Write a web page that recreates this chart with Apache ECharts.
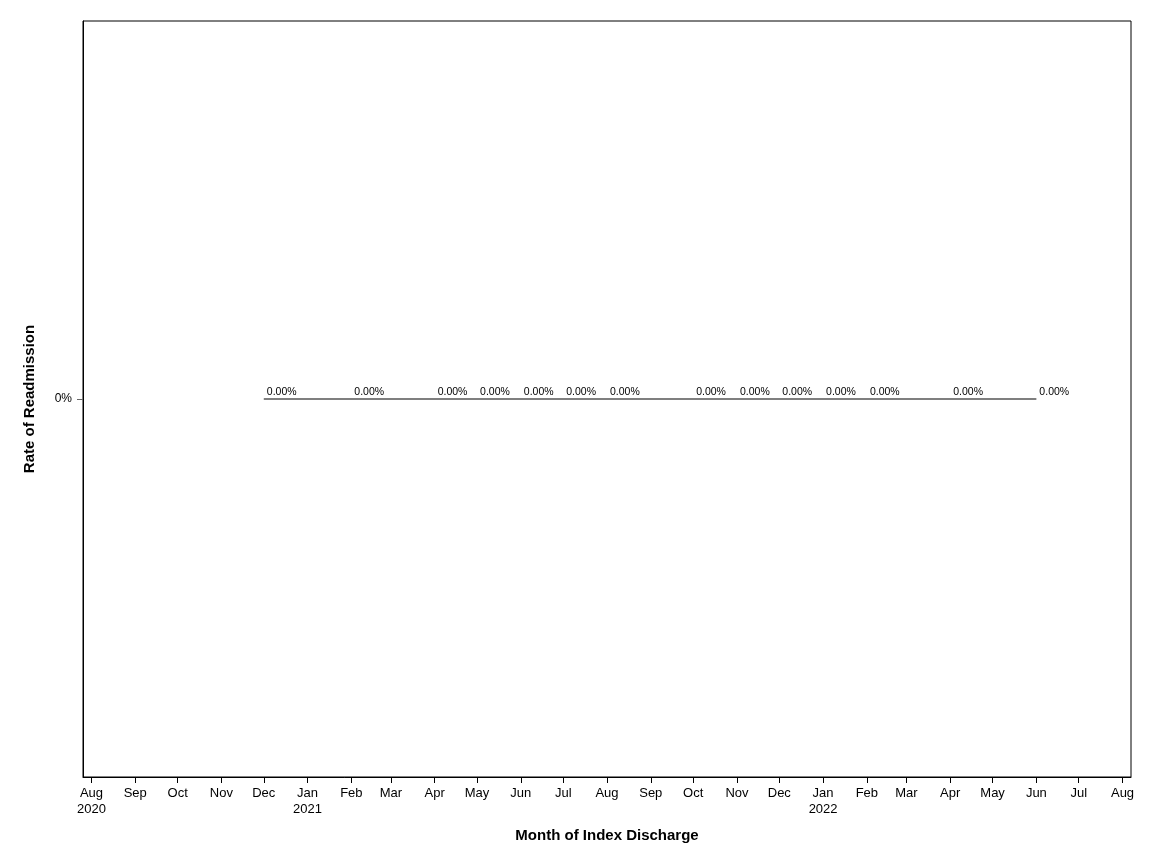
<!DOCTYPE html>
<html>
<head>
<meta charset="utf-8">
<script src="https://cdn.jsdelivr.net/npm/echarts@6/dist/echarts.min.js"></script>
<style>
html,body{margin:0;padding:0;background:#fff;}
#chart{width:1152px;height:864px;}
</style>
</head>
<body>
<div id="chart"></div>
<script>
// Data
const months = ['2020-12-01','2021-02-01','2021-04-01','2021-05-01','2021-06-01','2021-07-01','2021-08-01',
                '2021-10-01','2021-11-01','2021-12-01','2022-01-01','2022-02-01','2022-04-01','2022-06-01'];
const rates = [0,0,0,0,0,0,0,0,0,0,0,0,0,0];
const tickDates = ['2020-08-01','2020-09-01','2020-10-01','2020-11-01','2020-12-01','2021-01-01','2021-02-01',
                   '2021-03-01','2021-04-01','2021-05-01','2021-06-01','2021-07-01','2021-08-01','2021-09-01',
                   '2021-10-01','2021-11-01','2021-12-01','2022-01-01','2022-02-01','2022-03-01','2022-04-01',
                   '2022-05-01','2022-06-01','2022-07-01','2022-08-01'];
const tickLabels = ['Aug\n2020','Sep','Oct','Nov','Dec','Jan\n2021','Feb','Mar','Apr','May','Jun','Jul','Aug','Sep',
                    'Oct','Nov','Dec','Jan\n2022','Feb','Mar','Apr','May','Jun','Jul','Aug'];
const yTickValues = [0];
const yTickLabels = ['0%'];

function toTs(s){ const p = s.split('-').map(Number); return Date.UTC(p[0], p[1]-1, p[2]); }
const tickTs = tickDates.map(toTs);
const labelMap = {};
tickTs.forEach((t,i)=>{ labelMap[t] = tickLabels[i]; });

const chart = echarts.init(document.getElementById('chart'), null, {renderer:'canvas'});
const font = 'Liberation Sans, Arial, sans-serif';
chart.setOption({
  animation:false,
  backgroundColor:'#fff',
  textStyle:{fontFamily:font},
  grid:{left:83, right:21, top:21, bottom:87, show:true, borderColor:'#000', borderWidth:1, containLabel:false},
  xAxis:{
    type:'value',
    min: toTs('2020-07-26'),
    max: toTs('2022-08-07'),
    name:'Month of Index Discharge',
    nameLocation:'middle',
    nameGap:51,
    nameTextStyle:{fontFamily:font, fontSize:15, fontWeight:'bold', color:'#000'},
    axisLine:{show:true, onZero:false, lineStyle:{color:'#000', width:1}},
    axisTick:{show:true, length:6, inside:false, lineStyle:{color:'#000', width:1}, customValues:tickTs},
    axisLabel:{show:true, customValues:tickTs, fontFamily:font, fontSize:13, color:'#000', lineHeight:16, margin:8,
      hideOverlap:false,
      formatter:function(v){ return labelMap[v] !== undefined ? labelMap[v] : ''; }},
    splitLine:{show:false}
  },
  yAxis:{
    type:'value',
    min:-1, max:1,
    name:'Rate of Readmission',
    nameLocation:'middle',
    nameGap:46,
    nameTextStyle:{fontFamily:font, fontSize:15, fontWeight:'bold', color:'#000'},
    axisLine:{show:true, onZero:false, lineStyle:{color:'#000', width:1}},
    axisTick:{show:true, length:6, lineStyle:{color:'#666', width:1}, customValues:yTickValues},
    axisLabel:{show:true, customValues:yTickValues, fontFamily:font, fontSize:12, color:'#000', margin:11,
      formatter:function(v){ const i = yTickValues.indexOf(v); return i>=0 ? yTickLabels[i] : ''; }},
    splitLine:{show:false}
  },
  series:[{
    type:'line',
    data: months.map((m,i)=>[toTs(m), rates[i]]),
    symbol:'circle',
    symbolSize:1,
    showSymbol:true,
    itemStyle:{color:'rgba(0,0,0,0)', borderWidth:0},
    lineStyle:{color:'#7f7f7f', width:2},
    label:{show:true, position:'top', distance:2, align:'left', offset:[3,1],
      fontFamily:font, fontSize:10.5, color:'#000',
      formatter:function(p){ return (p.value[1]*100).toFixed(2)+'%'; }},
    emphasis:{disabled:true}
  }]
});
</script>
</body>
</html>
